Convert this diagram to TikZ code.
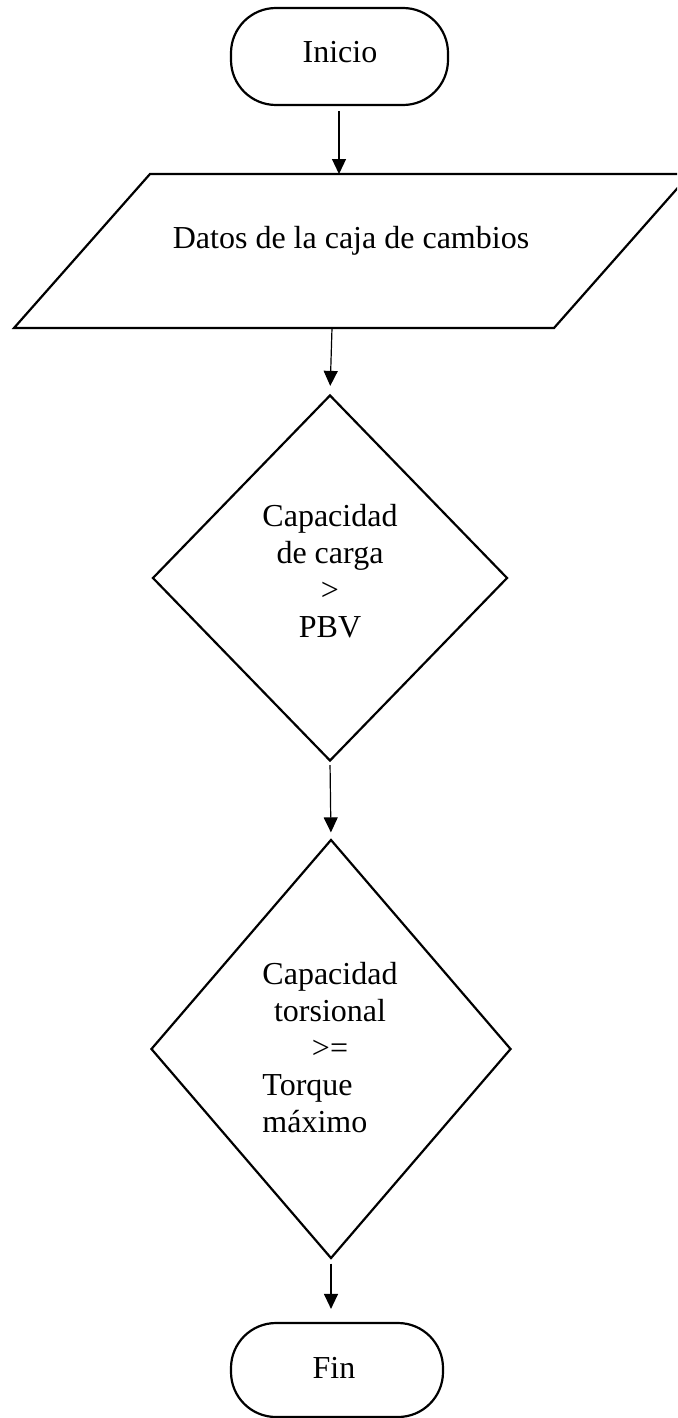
\documentclass[tikz,border=0pt]{standalone}
\usepackage{fontspec}
\usepackage{calc}
\setmainfont{Liberation Serif}
\usetikzlibrary{shapes.geometric,arrows.meta}
\tikzset{
  shapeline/.style={draw=black, line width=2.2pt},
  terminal/.style={shapeline, rectangle, rounded corners=45pt, inner sep=0pt},
  decision/.style={shapeline, diamond, inner sep=0pt},
  txt/.style={inner sep=0pt, font=\fontsize{32}{36.8}\selectfont},
  arr/.style={draw=black, line width=1.2pt, -{Triangle[length=15pt,width=14pt]}}
}
\begin{document}
\begin{tikzpicture}[x=1pt,y=-1pt]
\useasboundingbox (0,0) rectangle (677,1418);
\clip (0,0) rectangle (677,1418);
\fill[white] (0,0) rectangle (677,1418);
% Inicio
\node[terminal, minimum width=217pt, minimum height=97pt] (ini) at (339.5,56.5) {};
\node[txt] (tini) at (340,52) {Inicio};
% Parallelogram
\coordinate (ptl) at (150,174);
\coordinate (ptr) at (690,174);
\coordinate (pbr) at (554,328);
\coordinate (pbl) at (14,328);
\draw[shapeline, line join=miter] (ptl) -- (ptr) -- (pbr) -- (pbl) -- cycle;
\node[txt] (tdat) at (351,241) {Datos de la caja de cambios};
\coordinate (ptop) at (339,174);
\coordinate (pbot) at (332,328);
% Decision 1
\node[decision, minimum width=355pt, minimum height=366pt] (d1) at (330,578) {};
\node[txt, align=center] (td1) at (330,571) {Capacidad\\de carga\\>\\PBV};
% Decision 2
\node[decision, minimum width=360pt, minimum height=419pt] (d2) at (331,1049) {};
\node[txt, align=left] (td2) at (330,1047.5) {Capacidad\\\makebox[\widthof{Capacidad}]{torsional}\\\makebox[\widthof{Capacidad}]{>=}\\Torque\\máximo};
% Fin
\node[terminal, minimum width=212pt, minimum height=94pt] (fin) at (337,1370) {};
\node[txt] (tfin) at (334,1368) {Fin};
% Connectors
\draw[arr, shorten <=5pt] (ini.south -| ptop) -- (ptop);
\draw[arr, shorten >=8pt] (pbot) -- (d1.north);
\draw[arr, shorten <=3pt, shorten >=6pt] (d1.south) -- (d2.north);
\draw[arr, shorten <=4pt, shorten >=13pt] (d2.south) -- (d2.south |- fin.north);
\end{tikzpicture}
\end{document}
